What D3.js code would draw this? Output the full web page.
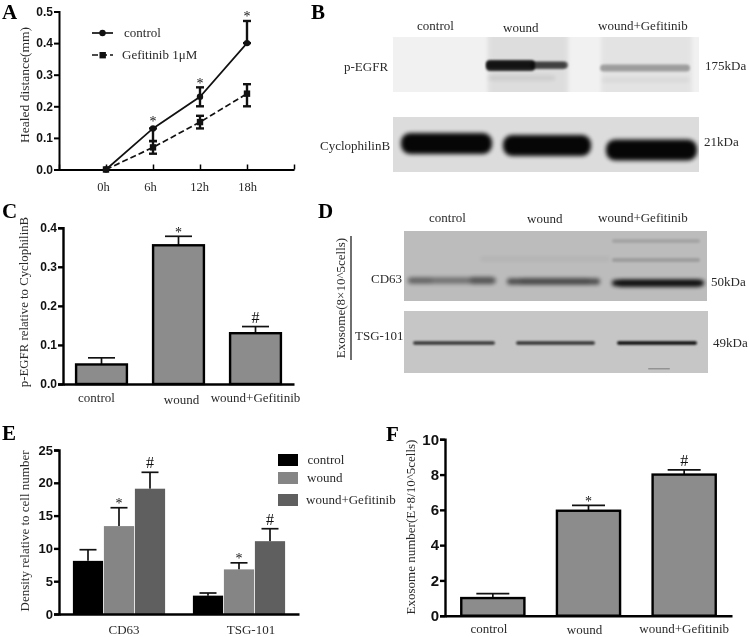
<!DOCTYPE html>
<html>
<head>
<meta charset="utf-8">
<script src="https://cdn.jsdelivr.net/npm/d3@7/dist/d3.min.js"></script>
<style>
  html, body { margin: 0; padding: 0; background: #fff; }
  svg { display: block; filter: blur(0.35px); }
  text { font-family: "Liberation Serif", serif; fill: #2a2a2a; }
  .num text, text.num { font-family: "Liberation Sans", sans-serif; font-weight: bold; fill: #111; }
</style>
</head>
<body>
<div id="chart"></div>
<script>
// Panel A
const hours = ["0h", "6h", "12h", "18h"];
const controlDistance = [0, 0.13, 0.23, 0.4];
const controlLow = [0, 0.09, 0.2, 0.4];
const controlHigh = [0, 0.13, 0.26, 0.47];
const gefitinibDistance = [0, 0.07, 0.15, 0.24];
const gefitinibLow = [0, 0.05, 0.13, 0.2];
const gefitinibHigh = [0, 0.09, 0.17, 0.27];

// Panels C and F
const groups = ["control", "wound", "wound+Gefitinib"];
const pEgfr = [0.05, 0.355, 0.13];
const pEgfrTop = [0.067, 0.378, 0.147];
const pEgfrMarks = ["", "*", "#"];
const exosomeNumber = [1, 5.95, 8];
const exosomeTop = [1.25, 6.25, 8.27];

// Panel E
const markers = ["CD63", "TSG-101"];
const densityControl = [8.1, 2.8];
const densityControlTop = [9.8, 3.2];
const densityWound = [13.4, 6.8];
const densityWoundTop = [16.2, 7.8];
const densityGefitinib = [19.1, 11.1];
const densityGefitinibTop = [21.6, 13];

// Western blot band darkness, one value per lane
const pEgfrBands = [0, 0.55, 0.3];
const cyclophilinBands = [0.97, 0.97, 0.97];
const cd63Bands = [0.42, 0.62, 0.95];
const tsgBands = [0.72, 0.74, 0.95];

const svg = d3
  .select("#chart")
  .append("svg")
  .attr("width", 749)
  .attr("height", 637);

const defs = svg.append("defs");
[["blur05", 0.7], ["blur1", 1.2], ["blur2", 2], ["blur4", 4]].forEach(([id, dev]) => {
  defs
    .append("filter")
    .attr("id", id)
    .attr("filterUnits", "userSpaceOnUse")
    .attr("x", 0)
    .attr("y", 0)
    .attr("width", 749)
    .attr("height", 637)
    .append("feGaussianBlur")
    .attr("stdDeviation", dev);
});

const addText = (x, y, str, size, opts = {}) =>
  svg
    .append("text")
    .attr("x", x)
    .attr("y", y)
    .attr("font-size", size)
    .attr("text-anchor", opts.anchor || "start")
    .attr("font-weight", opts.weight || "normal")
    .text(str);

const addYLabel = (x, yCenter, str, size) =>
  svg
    .append("text")
    .attr("transform", "translate(" + x + "," + yCenter + ") rotate(-90)")
    .attr("font-size", size)
    .attr("text-anchor", "middle")
    .text(str);

const panelLetter = (x, y, str) =>
  addText(x, y, str, 21, { weight: "bold" }).style("fill", "#000");

// * and # sit differently over the error cap, and # is drawn bigger
const addMark = (cx, capY, mark, shift = 0) => {
  if (mark === "#") {
    addText(cx, capY - 4, mark, 16, { anchor: "middle" }).style("fill", "#111");
  } else if (mark === "*") {
    addText(cx, capY + 0.5 + shift, mark, 14, { anchor: "middle" }).style("fill", "#111");
  }
};

const drawAxisY = (x, scale, values, format, fontSize, lineWidth) => {
  const g = svg
    .append("g")
    .attr("class", "num")
    .attr("transform", "translate(" + x + ",0)")
    .call(
      d3
        .axisLeft(scale)
        .tickValues(values)
        .tickFormat(format)
        .tickSizeOuter(0)
        .tickSize(5)
        .tickPadding(1),
    );
  g.selectAll("text").attr("font-size", fontSize);
  g.selectAll("line").attr("stroke", "#000").attr("stroke-width", lineWidth);
  g.select(".domain").attr("stroke", "#000").attr("stroke-width", lineWidth);
  return g;
};

const drawAxisX = (y, scale, fontSize, lineWidth, nudgeX, nudgeY, pad) => {
  const g = svg
    .append("g")
    .attr("transform", "translate(0," + y + ")")
    .call(d3.axisBottom(scale).tickSize(0).tickPadding(pad));
  g.selectAll("text")
    .attr("font-size", fontSize)
    .attr("dx", (d, i) => nudgeX[i])
    .attr("dy", (d, i) => nudgeY[i] + 10);
  g.select(".domain").attr("stroke", "#000").attr("stroke-width", lineWidth);
  return g;
};

// panel A
const drawLinePanel = () => {
  const x = d3
    .scalePoint()
    .domain(["start"].concat(hours, ["end"]))
    .range([59, 294]);
  const y = d3.scaleLinear().domain([0, 0.5]).range([169.5, 11.5]);

  drawAxisY(59, y, d3.range(0, 0.51, 0.1), d3.format(".1f"), 12, 2);

  const xg = svg
    .append("g")
    .attr("transform", "translate(0,169.5)")
    .call(
      d3
        .axisBottom(x)
        .tickSizeOuter(0)
        .tickSizeInner(-5)
        .tickPadding(13)
        .tickFormat((d) => (hours.includes(d) ? d : "")),
    );
  xg.selectAll("text")
    .attr("font-size", 12.5)
    .attr("dx", (d) => (d === "18h" ? 0 : d === "12h" ? -1 : -3));
  xg.selectAll("line").attr("stroke", "#000").attr("stroke-width", 1.5);
  xg.select(".domain").attr("stroke", "#000").attr("stroke-width", 1.8);

  const series = [
    { vals: controlDistance, low: controlLow, high: controlHigh, dash: null, shape: "circle" },
    { vals: gefitinibDistance, low: gefitinibLow, high: gefitinibHigh, dash: "6,3", shape: "square" },
  ];

  const line = d3
    .line()
    .x((d, i) => x(hours[i]))
    .y((d) => y(d));

  series.forEach((s) => {
    svg
      .append("path")
      .attr("d", line(s.vals))
      .attr("fill", "none")
      .attr("stroke", "#111")
      .attr("stroke-width", 1.7)
      .attr("stroke-dasharray", s.dash);

    hours.forEach((h, i) => {
      if (i === 0) return;
      const g = svg.append("g").attr("stroke", "#111").attr("stroke-width", 2.4);
      g.append("line")
        .attr("x1", x(h))
        .attr("x2", x(h))
        .attr("y1", y(s.low[i]))
        .attr("y2", y(s.high[i]));
      [s.low[i], s.high[i]].forEach((v) => {
        g.append("line")
          .attr("x1", x(h) - 4)
          .attr("x2", x(h) + 4)
          .attr("y1", y(v))
          .attr("y2", y(v));
      });
    });

    hours.forEach((h, i) => {
      if (s.shape === "circle") {
        svg
          .append("circle")
          .attr("cx", x(h))
          .attr("cy", y(s.vals[i]))
          .attr("r", 3.2)
          .attr("fill", "#111");
      } else {
        svg
          .append("rect")
          .attr("x", x(h) - 3.2)
          .attr("y", y(s.vals[i]) - 3.2)
          .attr("width", 6.4)
          .attr("height", 6.4)
          .attr("fill", "#111");
      }
    });
  });

  hours.forEach((h, i) => {
    if (i === 0) return;
    addMark(x(h), y(controlHigh[i]), "*", i === 1 ? -3 : 0);
  });

  // legend
  svg.append("line").attr("x1", 92).attr("x2", 113).attr("y1", 33).attr("y2", 33)
    .attr("stroke", "#111").attr("stroke-width", 1.7);
  svg.append("circle").attr("cx", 102.5).attr("cy", 33).attr("r", 3.2).attr("fill", "#111");
  addText(124, 37, "control", 13);
  svg.append("line").attr("x1", 92).attr("x2", 113).attr("y1", 55).attr("y2", 55)
    .attr("stroke", "#111").attr("stroke-width", 1.7).attr("stroke-dasharray", "6,3");
  svg.append("rect").attr("x", 99.5).attr("y", 52).attr("width", 6.4).attr("height", 6.4).attr("fill", "#111");
  addText(122, 59, "Gefitinib 1μM", 13);

  addYLabel(29, 85, "Healed distance(mm)", 13.5);
};

// single-series grey bars for panels C and F
const drawBarPanel = (cfg) => {
  const x = d3
    .scaleBand()
    .domain(groups)
    .range([cfg.left, cfg.right])
    .paddingInner(0.34)
    .paddingOuter(0.17);
  const y = d3.scaleLinear().domain(cfg.domain).range([cfg.bottom, cfg.top]);

  groups.forEach((g, i) => {
    const cx = x(g) + x.bandwidth() / 2;
    svg.append("line").attr("x1", cx).attr("x2", cx)
      .attr("y1", y(cfg.values[i])).attr("y2", y(cfg.tops[i]))
      .attr("stroke", "#111").attr("stroke-width", 1.7);
    svg.append("line").attr("x1", cx - cfg.cap).attr("x2", cx + cfg.cap)
      .attr("y1", y(cfg.tops[i])).attr("y2", y(cfg.tops[i]))
      .attr("stroke", "#111").attr("stroke-width", 1.7);
    addMark(cx, y(cfg.tops[i]), cfg.marks[i]);
  });

  svg
    .append("g")
    .selectAll("rect")
    .data(groups)
    .enter()
    .append("rect")
    .attr("x", (d) => x(d))
    .attr("y", (d, i) => y(cfg.values[i]))
    .attr("width", x.bandwidth())
    .attr("height", (d, i) => y(0) - y(cfg.values[i]))
    .attr("fill", "#8c8c8c")
    .attr("stroke", "#000")
    .attr("stroke-width", 2.4);

  drawAxisY(cfg.left, y, cfg.ticks, cfg.format, cfg.tickFont, 2.4);
  drawAxisX(cfg.bottom, x, 13, 2.4, cfg.nudgeX, cfg.nudgeY, cfg.pad);
};

// panel E
const drawGroupedPanel = () => {
  const x0 = d3
    .scaleBand()
    .domain(markers)
    .range([59, 299])
    .paddingInner(0.225)
    .paddingOuter(0.1125);
  const seriesNames = ["control", "wound", "wound+Gefitinib"];
  const x1 = d3.scaleBand().domain(seriesNames).range([0, x0.bandwidth()]);
  const y = d3.scaleLinear().domain([0, 25]).range([614, 450]);
  const color = d3.scaleOrdinal().domain(seriesNames).range(["#000000", "#858585", "#5f5f5f"]);

  const values = [densityControl, densityWound, densityGefitinib];
  const tops = [densityControlTop, densityWoundTop, densityGefitinibTop];
  const marks = ["", "*", "#"];

  seriesNames.forEach((name, s) => {
    markers.forEach((m, i) => {
      const bx = x0(m) + x1(name);
      const cx = bx + x1.bandwidth() / 2;
      svg.append("line").attr("x1", cx).attr("x2", cx)
        .attr("y1", y(values[s][i])).attr("y2", y(tops[s][i]))
        .attr("stroke", "#111").attr("stroke-width", 1.7);
      svg.append("line").attr("x1", cx - 8.5).attr("x2", cx + 8.5)
        .attr("y1", y(tops[s][i])).attr("y2", y(tops[s][i]))
        .attr("stroke", "#111").attr("stroke-width", 1.7);
      svg.append("rect")
        .attr("x", bx + 0.4)
        .attr("y", y(values[s][i]))
        .attr("width", x1.bandwidth() - 0.8)
        .attr("height", y(0) - y(values[s][i]))
        .attr("fill", color(name));
      addMark(cx, y(tops[s][i]), marks[s]);
    });
  });

  drawAxisY(59, y, d3.range(0, 26, 5), d3.format("d"), 13, 2.4);
  drawAxisX(614, x0, 13, 2.4, [5, 12], [0, 0], 10);

  // legend
  seriesNames.forEach((name, i) => {
    const ly = [454, 472, 494][i];
    svg.append("rect").attr("x", 278).attr("y", ly).attr("width", 20).attr("height", 12).attr("fill", color(name));
    addText([307.5, 307, 306][i], [464, 482, 504][i], name, 13);
  });

  addYLabel(29, 531, "Density relative to cell number", 13);
};

// one blot strip: background, lane bands and faint smears
const drawBlot = (cfg) => {
  svg.append("rect")
    .attr("x", cfg.x).attr("y", cfg.y)
    .attr("width", cfg.w).attr("height", cfg.h)
    .attr("fill", cfg.bg);

  const clipId = "clip" + cfg.id;
  defs.append("clipPath").attr("id", clipId)
    .append("rect")
    .attr("x", cfg.x).attr("y", cfg.y)
    .attr("width", cfg.w).attr("height", cfg.h);
  const g = svg.append("g").attr("clip-path", "url(#" + clipId + ")");

  (cfg.smears || []).forEach((s) => {
    g.append("rect")
      .attr("x", s.x0).attr("width", s.x1 - s.x0)
      .attr("y", s.y0).attr("height", s.y1 - s.y0)
      .attr("rx", Math.min(s.y1 - s.y0, 8) / 2)
      .attr("fill", "#000")
      .attr("opacity", s.o)
      .attr("filter", "url(#" + (s.blur || "blur2") + ")");
  });

  cfg.bands.forEach((v, i) => {
    if (!v) return;
    const lane = cfg.lanes[i];
    g.append("rect")
      .attr("x", lane[0]).attr("width", lane[1] - lane[0])
      .attr("y", lane[2] - cfg.bandH / 2).attr("height", cfg.bandH)
      .attr("rx", Math.min(cfg.bandH / 2, 9))
      .attr("fill", "#000")
      .attr("opacity", v)
      .attr("filter", "url(#" + cfg.blur + ")");
  });
};

panelLetter(2, 19, "A");
panelLetter(311, 19, "B");
panelLetter(2, 218, "C");
panelLetter(318, 218, "D");
panelLetter(2, 440, "E");
panelLetter(386, 441, "F");

drawLinePanel();

// panel B
addText(417, 30, "control", 13);
addText(503, 32, "wound", 13);
addText(598, 30, "wound+Gefitinib", 13);
drawBlot({
  id: "b1", x: 393, y: 37, w: 306, h: 55, bg: "#f1f1f1",
  bands: pEgfrBands,
  lanes: [[0, 0, 0], [486, 568, 65], [600, 690, 68]],
  bandH: 7, blur: "blur1",
  smears: [
    { x0: 488, x1: 568, y0: 30, y1: 100, o: 0.08, blur: "blur2" },
    { x0: 601, x1: 692, y0: 30, y1: 100, o: 0.05, blur: "blur2" },
    { x0: 486, x1: 535, y0: 60, y1: 71, o: 0.8, blur: "blur1" },
    { x0: 530, x1: 566, y0: 62, y1: 69, o: 0.35, blur: "blur1" },
    { x0: 488, x1: 555, y0: 76, y1: 80, o: 0.09 },
    { x0: 601, x1: 690, y0: 78, y1: 82, o: 0.05 },
  ],
});
drawBlot({
  id: "b2", x: 393, y: 117, w: 306, h: 55, bg: "#dcdcdc",
  bands: cyclophilinBands,
  lanes: [[401, 492, 143.5], [503, 591, 145.5], [606, 697, 150]],
  bandH: 21, blur: "blur2",
});
addText(344, 71, "p-EGFR", 13);
addText(320, 150, "CyclophilinB", 13);
addText(705, 70, "175kDa", 13);
addText(704, 146, "21kDa", 13);

// panel C
drawBarPanel({
  left: 63, right: 294, top: 227.7, bottom: 384, cap: 13.5,
  domain: [0, 0.4], values: pEgfr, tops: pEgfrTop, marks: pEgfrMarks,
  ticks: d3.range(0, 0.41, 0.1), format: d3.format(".1f"), tickFont: 12,
  nudgeX: [-5, 3, 0], nudgeY: [0, 2, 0], pad: 8,
});
addYLabel(28, 302, "p-EGFR relative to CyclophilinB", 12.8);

// panel D
addText(429, 222, "control", 13);
addText(527, 223, "wound", 13);
addText(598, 222, "wound+Gefitinib", 13);
drawBlot({
  id: "d1", x: 404, y: 231, w: 303, h: 70, bg: "#bcbcbc",
  bands: cd63Bands,
  lanes: [[408, 496, 280.5], [507, 600, 281.5], [612, 704, 283]],
  bandH: 6, blur: "blur2",
  smears: [
    { x0: 408, x1: 432, y0: 278, y1: 283, o: 0.12, blur: "blur2" },
    { x0: 470, x1: 494, y0: 277, y1: 284, o: 0.25, blur: "blur2" },
    { x0: 520, x1: 590, y0: 278, y1: 284, o: 0.1, blur: "blur2" },
    { x0: 618, x1: 700, y0: 280, y1: 287, o: 0.4, blur: "blur2" },
    { x0: 612, x1: 700, y0: 239, y1: 243, o: 0.12, blur: "blur1" },
    { x0: 612, x1: 700, y0: 258, y1: 262, o: 0.16, blur: "blur1" },
    { x0: 480, x1: 610, y0: 257, y1: 261, o: 0.05 },
  ],
});
drawBlot({
  id: "d2", x: 404, y: 311, w: 304, h: 62, bg: "#c6c6c6",
  bands: tsgBands,
  lanes: [[413, 495, 343], [516, 595, 343], [617, 697, 343]],
  bandH: 3.5, blur: "blur1",
  smears: [{ x0: 648, x1: 670, y0: 368, y1: 369.5, o: 0.25, blur: "blur05" }],
});
svg.append("line").attr("x1", 351).attr("x2", 351).attr("y1", 236).attr("y2", 360)
  .attr("stroke", "#222").attr("stroke-width", 1.3);
addYLabel(345, 298, "Exosome(8×10^5cells)", 13);
addText(371, 283, "CD63", 13);
addText(355, 340, "TSG-101", 13);
addText(711, 286, "50kDa", 13);
addText(713, 347, "49kDa", 13);

drawGroupedPanel();

// panel F
drawBarPanel({
  left: 445, right: 732, top: 439.3, bottom: 615.7, cap: 16.5,
  domain: [0, 10], values: exosomeNumber, tops: exosomeTop, marks: ["", "*", "#"],
  ticks: d3.range(0, 11, 2), format: d3.format("d"), tickFont: 15,
  nudgeX: [-4, -4, 0], nudgeY: [0, 0.5, 0], pad: 7.5,
});
addYLabel(415, 527, "Exosome number(E+8/10^5cells)", 13);
</script>
</body>
</html>
